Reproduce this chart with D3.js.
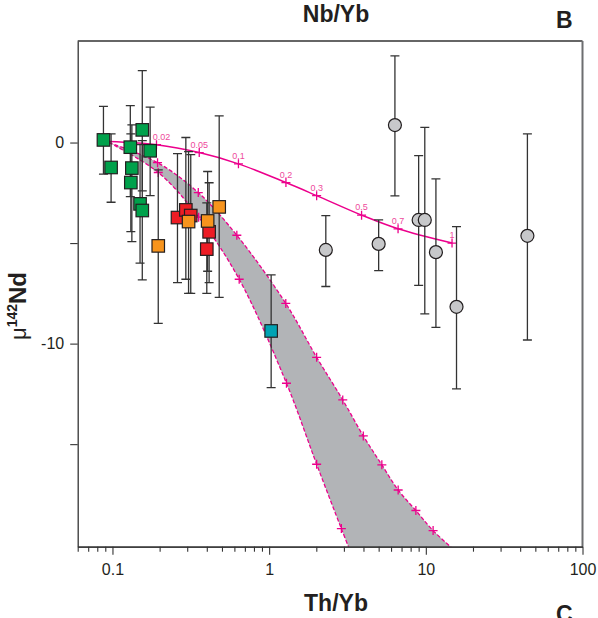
<!DOCTYPE html>
<html>
<head>
<meta charset="utf-8">
<script src="https://cdn.jsdelivr.net/npm/d3@7"></script>
<style>
  body { margin: 0; background: #fff; }
  text { font-family: "Liberation Sans", Arial, sans-serif; }
</style>
</head>
<body>
<div id="chart"></div>
<script>
"use strict";

// each sample: [Th/Yb, mu142Nd, bar bottom, bar top]
var greenPts = [
	[0.0876, 0.13, -1.57, 1.8],
	[0.098, -1.24, -2.97, 0.43],
	[0.13, -0.23, -2.69, 1.84],
	[0.133, -1.27, -4.93, 0.88],
	[0.131, -1.99, -4.43, 0.43],
	[0.155, 0.63, -2.4, 3.58],
	[0.15, -3.05, -6.0, -0.1],
	[0.155, -3.38, -6.83, 0.1],
	[0.174, -0.41, -2.64, 1.76]
];
var redPts = [
	[0.26, -3.73, -6.97, -0.55],
	[0.294, -3.35, -6.8, 0.25],
	[0.316, -3.63, -7.5, -0.6],
	[0.414, -4.44, -6.97, -2.0],
	[0.40, -5.3, -7.5, -3.0]
];
var orangePts = [
	[0.196, -5.14, -8.99, -1.36],
	[0.306, -3.93, -7.5, -0.45],
	[0.405, -3.9, -6.4, -1.44],
	[0.48, -3.2, -7.7, 1.33]
];
var tealPts = [
	[1.03, -9.37, -12.19, -6.58]
];
var grayPts = [
	[6.35, 0.87, -2.65, 4.31],
	[2.30, -5.34, -7.16, -3.63],
	[5.0, -5.04, -6.37, -3.85],
	[9.0, -3.85, -7.1, -0.65],
	[9.85, -3.85, -8.52, 0.75],
	[11.6, -5.45, -9.19, -1.81],
	[15.7, -8.17, -12.25, -4.18],
	[44.5, -4.64, -9.82, 0.43]
];

// mixing curve (solid) with labelled fractions
var mixStart = [0.095, 0.05];
var mixFrac = ["0.02", "0.05", "0.1", "0.2", "0.3", "0.5", "0.7", "1"];
var mixX = [0.191, 0.358, 0.637, 1.28, 2.01, 3.89, 6.65, 14.7];
var mixY = [-0.11, -0.5, -1.06, -1.99, -2.64, -3.61, -4.29, -5.0];

// grey field, two dashed edges (first and last points are unmarked ends)
var edgeA = [[0.095, 0], [0.194, -1.0], [0.353, -2.49], [0.622, -4.61], [1.277, -8.0],
	[2.01, -10.68], [2.95, -12.8], [3.99, -14.59], [5.24, -16.03], [6.66, -17.28],
	[8.64, -18.3], [11.13, -19.3], [17, -20.6]];
var edgeB = [[0.095, 0], [0.196, -1.49], [0.355, -3.71], [0.644, -6.8], [1.29, -11.97],
	[2.01, -16.0], [2.89, -19.2], [3.4, -20.6]];

var xMajor = [0.1, 1, 10, 100];
var xMinor = [0.06, 0.07, 0.08, 0.09, 0.2, 0.3, 0.4, 0.5, 0.6, 0.7, 0.8, 0.9,
	2, 3, 4, 5, 6, 7, 8, 9, 20, 30, 40, 50, 60, 70, 80, 90];
var yTicks = [0, -5, -10, -15];
var yLabelled = [0, -10];

var W = 598, H = 618;
var L = 77.7, R = 582.5, T = 41, B = 546.7;
var pink = "#ec008c";

var svg = d3.select("#chart").append("svg")
	.attr("width", W).attr("height", H);

var x = d3.scaleLog().domain([0.06, 100]).range([L, R]);
var y = d3.scaleLinear().domain([-20.1, 5.05]).range([B, T]);

svg.append("clipPath").attr("id", "clip")
	.append("rect").attr("x", L).attr("y", T).attr("width", R - L).attr("height", B - T);

var plot = svg.append("g").attr("clip-path", "url(#clip)");

var line = d3.line()
	.x(function (d) { return x(d[0]); })
	.y(function (d) { return y(d[1]); })
	.curve(d3.curveCatmullRom.alpha(0.5));

// band fill: edge A forward, edge B back
var pathA = line(edgeA);
var pathB = line(edgeB.slice().reverse());
plot.append("path")
	.attr("d", pathA + "L" + pathB.substring(1) + "Z")
	.attr("fill", "#b2b4b7")
	.attr("stroke", "none");

[edgeA, edgeB].forEach(function (e) {
	plot.append("path")
		.attr("d", line(e))
		.attr("fill", "none")
		.attr("stroke", pink)
		.attr("stroke-width", 1.3)
		.attr("stroke-dasharray", "4,2");
});

var mixPts = [mixStart].concat(mixX.map(function (v, i) { return [v, mixY[i]]; }));
plot.append("path")
	.attr("d", line(mixPts))
	.attr("fill", "none")
	.attr("stroke", pink)
	.attr("stroke-width", 1.5);

// crosses
var crossPts = mixPts.slice(1)
	.concat(edgeA.slice(1, -1))
	.concat(edgeB.slice(1, -1));
var cs = 4.5;
plot.selectAll(".cross").data(crossPts).enter().append("path")
	.attr("class", "cross")
	.attr("d", function (d) {
		var cx = x(d[0]), cy = y(d[1]);
		return "M" + (cx - cs) + "," + cy + "H" + (cx + cs) +
			"M" + cx + "," + (cy - cs) + "V" + (cy + cs);
	})
	.attr("stroke", pink)
	.attr("stroke-width", 1.3);

plot.selectAll(".mixlab").data(mixFrac).enter().append("text")
	.attr("class", "mixlab")
	.attr("x", function (d, i) { return x(mixX[i]) + (i === 0 ? 5 : 0); })
	.attr("y", function (d, i) { return y(mixY[i]) - 5; })
	.attr("text-anchor", "middle")
	.attr("font-size", "9px")
	.attr("fill", "#ee4a9c")
	.text(function (d) { return d; });

// error bars
var allPts = greenPts.concat(redPts, orangePts, tealPts, grayPts);
var bars = plot.append("g")
	.attr("stroke", "#333")
	.attr("stroke-width", 1.3)
	.attr("fill", "none");
var cap = 4.5;
allPts.forEach(function (d) {
	var cx = x(d[0]);
	bars.append("path")
		.attr("d", "M" + cx + "," + y(d[2]) + "V" + y(d[3]) +
			"M" + (cx - cap) + "," + y(d[2]) + "H" + (cx + cap) +
			"M" + (cx - cap) + "," + y(d[3]) + "H" + (cx + cap));
});

// markers
var sq = 12.5;
function squares(data, fill) {
	plot.append("g").selectAll("rect").data(data).enter().append("rect")
		.attr("x", function (d) { return x(d[0]) - sq / 2; })
		.attr("y", function (d) { return y(d[1]) - sq / 2; })
		.attr("width", sq).attr("height", sq)
		.attr("fill", fill)
		.attr("stroke", "#231f20")
		.attr("stroke-width", 1.2);
}
squares(greenPts, "#00a14b");
squares(redPts, "#ed1c24");
squares(orangePts, "#f7941d");
squares(tealPts, "#00a3b4");

plot.append("g").selectAll("circle").data(grayPts).enter().append("circle")
	.attr("cx", function (d) { return x(d[0]); })
	.attr("cy", function (d) { return y(d[1]); })
	.attr("r", 6.5)
	.attr("fill", "#c7c8ca")
	.attr("stroke", "#231f20")
	.attr("stroke-width", 1.2);

// frame
svg.append("line").attr("x1", L).attr("x2", R).attr("y1", T).attr("y2", T)
	.attr("stroke", "#333").attr("stroke-width", 1.3);
svg.append("line").attr("x1", R).attr("x2", R).attr("y1", T).attr("y2", B)
	.attr("stroke", "#6d6e70").attr("stroke-width", 2);

// axes
function styleAxis(g) {
	g.select(".domain").attr("stroke", "#333").attr("stroke-width", 1.3);
	g.selectAll(".tick line").attr("stroke", "#333").attr("stroke-width", 1.1);
	g.selectAll("text")
		.attr("font-family", "'Liberation Sans', Arial, sans-serif")
		.attr("font-size", "16px")
		.attr("fill", "#231f20");
}

svg.append("g")
	.attr("transform", "translate(0," + B + ")")
	.call(d3.axisBottom(x).tickValues(xMinor).tickSize(5).tickFormat("").tickSizeOuter(0))
	.call(styleAxis);
svg.append("g")
	.attr("transform", "translate(0," + B + ")")
	.call(d3.axisBottom(x).tickValues(xMajor).tickSize(8).tickPadding(9).tickSizeOuter(0)
		.tickFormat(function (d) { return String(d); }))
	.call(styleAxis);

svg.append("g")
	.attr("transform", "translate(" + L + ",0)")
	.call(d3.axisLeft(y).tickValues(yTicks).tickSize(7.5).tickPadding(6).tickSizeOuter(0)
		.tickFormat(function (d) { return yLabelled.indexOf(d) >= 0 ? String(d) : ""; }))
	.call(styleAxis);

// titles
svg.append("text").attr("x", 336).attr("y", 22)
	.attr("text-anchor", "middle").attr("font-size", "23px").attr("font-weight", "bold")
	.attr("fill", "#231f20").text("Nb/Yb");
svg.append("text").attr("x", 556).attr("y", 28)
	.attr("font-size", "23px").attr("font-weight", "bold")
	.attr("fill", "#231f20").text("B");
svg.append("text").attr("x", 336).attr("y", 611)
	.attr("text-anchor", "middle").attr("font-size", "23px").attr("font-weight", "bold")
	.attr("fill", "#231f20").text("Th/Yb");
svg.append("text").attr("x", 556).attr("y", 622)
	.attr("font-size", "23px").attr("font-weight", "bold")
	.attr("fill", "#231f20").text("C");

var ylab = svg.append("text")
	.attr("transform", "translate(26,306) rotate(-90)")
	.attr("text-anchor", "middle")
	.attr("fill", "#231f20");
ylab.append("tspan").attr("font-size", "22px").text("μ");
ylab.append("tspan").attr("font-size", "14px").attr("font-weight", "bold")
	.attr("dy", "-9").text("142");
ylab.append("tspan").attr("font-size", "24px").attr("font-weight", "bold")
	.attr("dy", "9").text("Nd");
</script>
</body>
</html>
